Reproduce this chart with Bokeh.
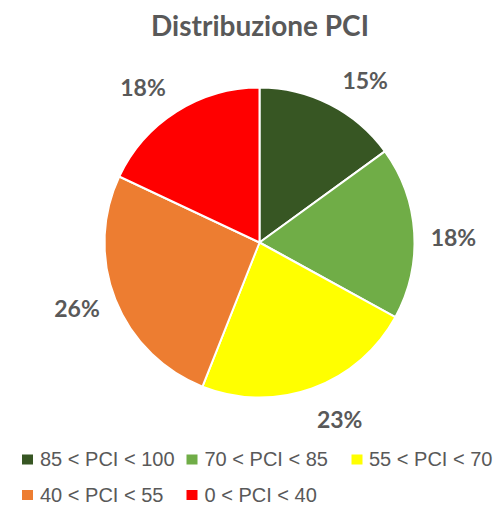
import math
from bokeh.plotting import figure
from bokeh.models import Range1d, ColumnDataSource
from bokeh.core.properties import value
from bokeh.embed import file_html
from bokeh.resources import INLINE

# ---- data ----
categories = ["85 < PCI < 100", "70 < PCI < 85", "55 < PCI < 70", "40 < PCI < 55", "0 < PCI < 40"]
shares = [15, 18, 23, 26, 18]
colors = ["#375623", "#70AD47", "#FFFF00", "#ED7D31", "#FF0000"]
title_text = "Distribuzione PCI"

# ---- layout / style ----
W, H = 500, 507
CX, CY, R = 259, 265, 155          # pie centre and radius (data units = px)
LABEL_R = 194
LABEL_NUDGE_DEG = [6, 2, -4.6, 1.8, -4.5]
TEXT_COLOR = "#595959"
LEG_SQ_X = [27, 191.5, 356.5]
LEG_TXT_X = [39.5, 204, 368.5]
LEG_ROW_MID = [48.5, 13]           # vertical centres (data y) of the two legend rows

p = figure(width=W, height=H, output_backend="svg", toolbar_location=None,
           x_range=Range1d(0, W), y_range=Range1d(0, H),
           x_axis_location=None, y_axis_location=None,
           min_border=0, min_border_left=0, min_border_right=0,
           min_border_top=0, min_border_bottom=0)
p.title.visible = False
p.grid.visible = False
p.outline_line_color = None
p.background_fill_color = "white"
p.border_fill_color = "white"

total = float(sum(shares))
starts, ends, mids = [], [], []
cum = 0.0
for s in shares:
    a0 = cum / total
    cum += s
    a1 = cum / total
    # clockwise from 12 o'clock
    starts.append(math.pi / 2 - 2 * math.pi * a1)
    ends.append(math.pi / 2 - 2 * math.pi * a0)
    mids.append((a0 + a1) / 2 * 360.0)

src = ColumnDataSource(dict(start=starts, end=ends, color=colors))
p.wedge(x=CX, y=CY, radius=R, start_angle="start", end_angle="end",
        fill_color="color", line_color="white", line_width=2, source=src)

# percentage labels
lx, ly, lt = [], [], []
for m, nud, s in zip(mids, LABEL_NUDGE_DEG, shares):
    ang = math.radians(m + nud)
    lx.append(CX + LABEL_R * math.sin(ang))
    ly.append(CY + LABEL_R * math.cos(ang))
    lt.append(f"{round(s / total * 100)}%")
p.text(x=lx, y=ly, text=lt, text_align="center", text_baseline="middle",
       text_font=value("Lato"), text_font_style="bold", text_font_size="23px",
       text_color=TEXT_COLOR)

# title
p.text(x=[259.5], y=[483], text=[title_text], text_align="center",
       text_baseline="middle", text_font=value("Lato"),
       text_font_style="bold", text_font_size="28px", text_color=TEXT_COLOR)

# legend (3 per row)
sq_x, sq_y, tx, ty = [], [], [], []
for i, c in enumerate(categories):
    row, col = divmod(i, 3)
    sq_x.append(LEG_SQ_X[col])
    sq_y.append(LEG_ROW_MID[row] - 0.5)
    tx.append(LEG_TXT_X[col])
    ty.append(LEG_ROW_MID[row])
p.rect(x=sq_x, y=sq_y, width=11, height=10, fill_color=colors, line_color=None)
p.text(x=tx, y=ty, text=categories, text_align="left", text_baseline="middle",
       text_font=value("Liberation Sans"), text_font_size="20px",
       text_color=TEXT_COLOR)

open("out.html", "w").write(file_html(p, INLINE))
